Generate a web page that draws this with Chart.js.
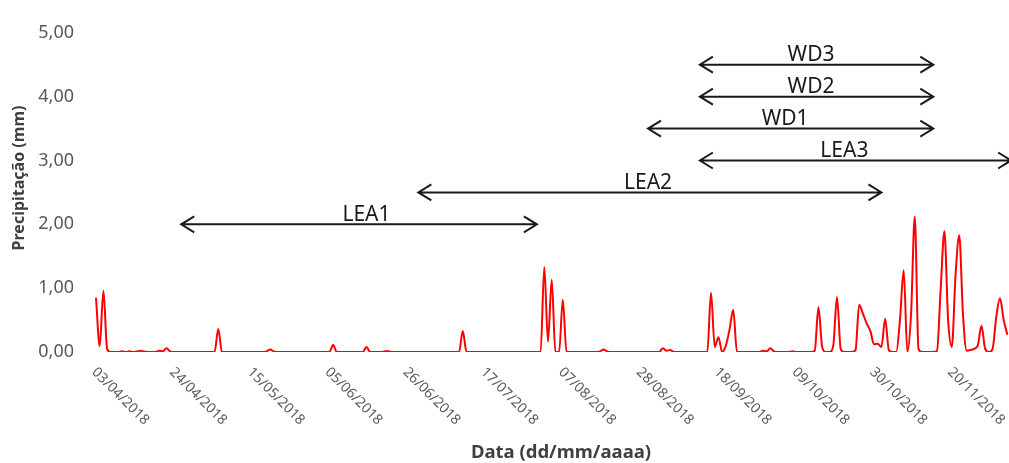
<!DOCTYPE html>
<html>
<head>
<meta charset="utf-8">
<script src="https://cdn.jsdelivr.net/npm/chart.js@4.4.0/dist/chart.umd.min.js"></script>
<style>
html,body{margin:0;padding:0;background:#fff;overflow:hidden}
#wrap{width:1009px;height:463px;position:relative}
</style>
</head>
<body>
<div id="wrap"><canvas id="c" width="1009" height="463"></canvas></div>
<script>
// ---- data ----
const startDate = '03/04/2018';
// daily precipitation (mm), one row per 21 days
const precip = [
  0.85,0.09,0.96,0.05,0,0,0,0.01,0,0.01,0,0.01,0.02,0.01,0,0,0,0.02,0.01,0.06,0.01,
  0,0,0,0,0,0,0,0,0,0,0,0,0.36,0,0,0,0,0,0,0,0,
  0,0,0,0,0.01,0.04,0.01,0,0,0,0,0,0,0,0,0,0,0,0,0,0,
  0,0.11,0,0,0,0,0,0,0,0,0.08,0,0,0,0,0.01,0.01,0,0,0,0,
  0,0,0,0,0,0,0,0,0,0,0,0,0,0,0,0.33,0,0,0,0,0,
  0,0,0,0,0,0,0,0,0,0,0,0,0,0,0,0,1.33,0.16,1.13,0,0,
  0.82,0,0,0,0,0,0,0,0,0,0.01,0.04,0.01,0,0,0,0,0,0,0,0,
  0,0,0,0,0,0,0.06,0.02,0.03,0,0,0,0,0,0,0,0,0,0,0.93,0.08,
  0.23,0,0.1,0.35,0.66,0,0,0,0,0,0,0,0.02,0.01,0.06,0.01,0,0,0,0,0.01,
  0,0,0,0,0,0.02,0.70,0.08,0,0,0.1,0.86,0.05,0,0,0,0.03,0.74,0.6,0.45,0.33,
  0.12,0.13,0.08,0.52,0.03,0,0,0.5,1.28,0,0.6,2.12,0.05,0,0,0,0,0.02,1.0,1.89,0.5,
  0.08,1.2,1.83,0.6,0.02,0.03,0.05,0.1,0.41,0.05,0,0.05,0.55,0.84,0.5,0.27
];
const tickLabels = ['03/04/2018','24/04/2018','15/05/2018','05/06/2018','26/06/2018','17/07/2018',
                    '07/08/2018','28/08/2018','18/09/2018','09/10/2018','30/10/2018','20/11/2018'];
const yTicks = [0,1,2,3,4,5];
const arrowNames = ['LEA1','LEA2','LEA3','WD1','WD2','WD3'];
const arrowFrom  = ['26/04/2018','29/06/2018','13/09/2018','30/08/2018','13/09/2018','13/09/2018'];
const arrowTo    = ['31/07/2018','01/11/2018','06/12/2018','15/11/2018','15/11/2018','15/11/2018'];
const arrowTextAt= ['15/06/2018','30/08/2018','22/10/2018','06/10/2018','13/10/2018','13/10/2018'];
const arrowLevel = [2.0,2.5,3.0,3.5,4.0,4.5];

// ---- helpers ----
function parseDMY(s){const p=s.split('/').map(Number);return Date.UTC(p[2],p[1]-1,p[0]);}
function dayIndex(s){return Math.round((parseDMY(s)-parseDMY(startDate))/86400000);}
function fmt(t){const d=new Date(t);return String(d.getUTCDate()).padStart(2,'0')+'/'+String(d.getUTCMonth()+1).padStart(2,'0')+'/'+d.getUTCFullYear();}
const categories = precip.map((_,i)=>fmt(parseDMY(startDate)+i*86400000));

const overlay = {
  id:'overlay',
  afterDraw(chart){
    const ctx=chart.ctx, xs=chart.scales.x, ys=chart.scales.y;
    ctx.save();
    // rotated x tick labels
    ctx.font='14px "Noto Sans"';
    ctx.fillStyle='#595959';
    ctx.textAlign='left';
    ctx.textBaseline='middle';
    tickLabels.forEach(t=>{
      const px=xs.getPixelForValue(dayIndex(t));
      ctx.save();
      ctx.translate(px-2,370);
      ctx.rotate(Math.PI/4);
      ctx.fillText(t,0,0);
      ctx.restore();
    });
    // axis titles
    ctx.fillStyle='#404040';
    ctx.textAlign='center';
    ctx.font='bold 18.5px "Noto Sans"';
    ctx.fillText('Data (dd/mm/aaaa)',561,453);
    ctx.save();
    ctx.translate(19,178);
    ctx.rotate(-Math.PI/2);
    ctx.font='bold 16px "Noto Sans"';
    ctx.fillText('Precipitação (mm)',0,0);
    ctx.restore();
    // arrows
    ctx.strokeStyle='#1a1a1a';
    ctx.fillStyle='#1a1a1a';
    ctx.lineWidth=2;
    ctx.font='21px "Noto Sans"';
    ctx.textBaseline='alphabetic';
    arrowNames.forEach((name,i)=>{
      const y=ys.getPixelForValue(arrowLevel[i]);
      const x1=xs.getPixelForValue(dayIndex(arrowFrom[i]));
      const x2=xs.getPixelForValue(dayIndex(arrowTo[i]));
      ctx.beginPath();
      ctx.moveTo(x1,y);ctx.lineTo(x2,y);
      ctx.moveTo(x1+13,y-8);ctx.lineTo(x1,y);ctx.lineTo(x1+13,y+8);
      ctx.moveTo(x2-13,y-8);ctx.lineTo(x2,y);ctx.lineTo(x2-13,y+8);
      ctx.stroke();
      const tx=xs.getPixelForValue(dayIndex(arrowTextAt[i]));
      ctx.fillText(name,tx,y-3.5);
    });
    ctx.restore();
  }
};

new Chart(document.getElementById('c'),{
  type:'line',
  data:{labels:categories,datasets:[{
    data:precip,borderColor:'#ff0000',borderWidth:2,pointRadius:0,
    tension:0.4,cubicInterpolationMode:'monotone',fill:false
  }]},
  options:{
    responsive:false,animation:false,devicePixelRatio:1,
    layout:{padding:{top:25,right:1.6,left:0,bottom:0}},
    plugins:{legend:{display:false},tooltip:{enabled:false}},
    scales:{
      x:{type:'category',grid:{display:false,drawTicks:false},border:{display:false},
         ticks:{display:false},afterFit(s){s.height=111;}},
      y:{min:0,max:5,
         afterBuildTicks(s){s.ticks=yTicks.map(v=>({value:v}));},
         grid:{display:false,drawTicks:false},border:{display:false},
         ticks:{padding:22,color:'#595959',font:{family:'Noto Sans',size:18},
                callback:v=>v.toFixed(2).replace('.',',')},
         afterFit(s){s.width=96;}}
    }
  },
  plugins:[overlay]
});
</script>
</body>
</html>
